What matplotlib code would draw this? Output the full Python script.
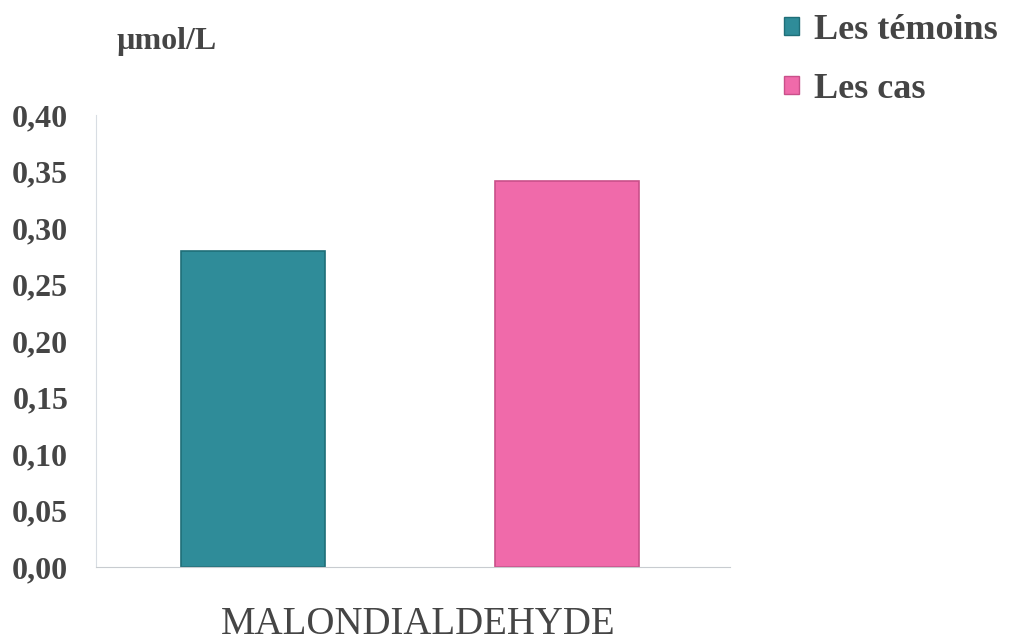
import numpy as np
import matplotlib.pyplot as plt
from matplotlib.patches import Patch

# data
category = "MALONDIALDEHYDE"
series_names = ["Les témoins", "Les cas"]
series_values = [0.28, 0.342]
series_colors = ["#2f8c99", "#f06aaa"]
edge_colors = ["#1f6e78", "#c9508a"]
y_ticks = [0.00, 0.05, 0.10, 0.15, 0.20, 0.25, 0.30, 0.35, 0.40]

plt.rcParams['font.family'] = ['Liberation Serif', 'DejaVu Serif']
text_color = "#454545"

fig = plt.figure(figsize=(10.11, 6.41), dpi=100)
ax = fig.add_axes([96/1011, 1-567/641, (730-96)/1011, (567-115)/641])

x = np.arange(len(series_values))
ax.bar(x, series_values, width=0.46, color=series_colors,
       edgecolor=edge_colors, linewidth=1.2)

ax.set_xlim(-0.5, 1.52)
ax.set_ylim(0, 0.40)
ax.set_yticks(y_ticks)
ax.set_yticklabels([f"{v:.2f}".replace(".", ",") for v in y_ticks],
                   fontsize=23, fontweight="bold", color=text_color)
ax.set_xticks([])
ax.tick_params(axis="y", length=0, pad=20)

for s in ["top", "right"]:
    ax.spines[s].set_visible(False)
ax.spines["left"].set_color("#d8dde3")
ax.spines["bottom"].set_color("#c8ccd0")

fig.text(116/1011, 1-42/641, "µmol/L", fontsize=23, fontweight="bold",
         color=text_color, va="center", ha="left")

fig.text(418/1011, 1-606/641, category, fontsize=28, color=text_color,
         va="top", ha="center")

handles = [Patch(facecolor=c, edgecolor=e) for c, e in zip(series_colors, edge_colors)]
fig.legend(handles, series_names, loc="upper left",
           bbox_to_anchor=(784/1011, 1-14/641), frameon=False,
           borderaxespad=0, borderpad=0,
           prop={"size": 26, "weight": "bold"}, labelcolor=text_color,
           handlelength=0.42, handleheight=0.42, handletextpad=0.42,
           labelspacing=0.72)

fig.savefig("out.png", dpi=100)
